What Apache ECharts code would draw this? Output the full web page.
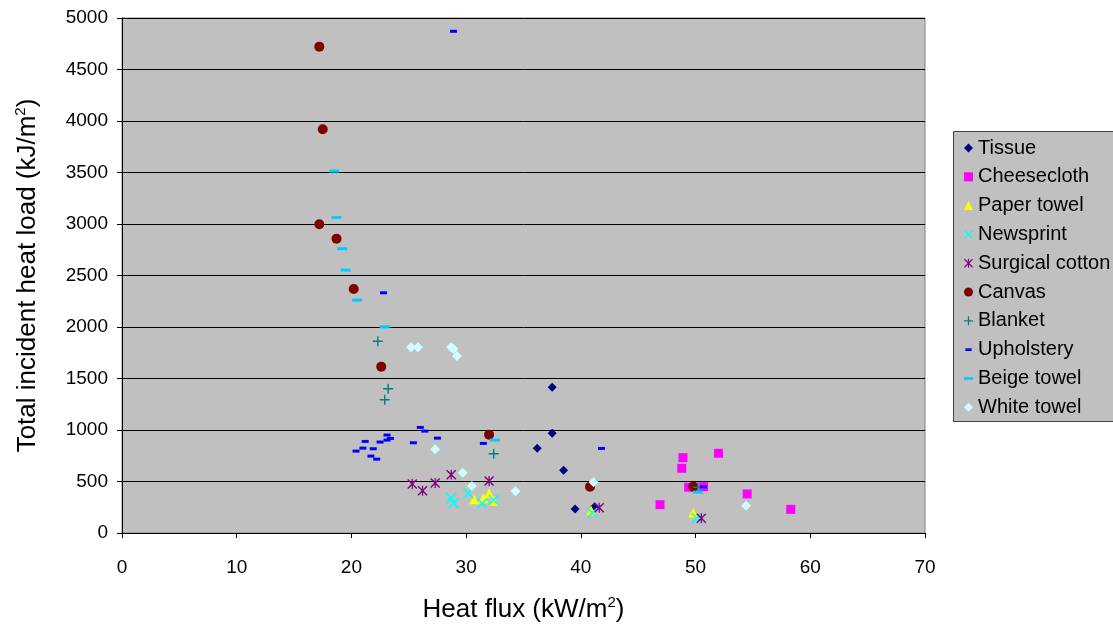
<!DOCTYPE html>
<html>
<head>
<meta charset="utf-8">
<script src="https://cdn.jsdelivr.net/npm/echarts@6/dist/echarts.min.js"></script>
<style>
  html, body { margin: 0; padding: 0; background: #fff; }
  #chart { width: 1113px; height: 630px; }
</style>
</head>
<body>
<div id="chart"></div>
<script>
// series names, in legend order
const materials = ['Tissue', 'Cheesecloth', 'Paper towel', 'Newsprint', 'Surgical cotton',
  'Canvas', 'Blanket', 'Upholstery', 'Beige towel', 'White towel'];

// [heat flux kW/m2, total incident heat load kJ/m2]
const tissue = [[37.5, 1415], [37.5, 968], [36.2, 822], [38.5, 609], [39.5, 233], [41.2, 255]];
const cheesecloth = [[48.9, 731], [48.8, 628], [52.0, 774], [49.4, 444], [50.7, 450], [54.5, 379], [46.9, 275], [58.3, 230]];
const paperTowel = [[30.7, 327], [31.5, 337], [32.0, 385], [32.4, 313], [40.9, 215], [49.8, 197]];
const newsprint = [[28.7, 340], [28.9, 290], [30.2, 385], [31.4, 288], [32.4, 320], [41.0, 195], [50.1, 143]];
const surgicalCotton = [[25.3, 476], [26.2, 411], [27.3, 485], [28.7, 566], [32.0, 505], [41.6, 246], [50.5, 143]];
const canvas = [[17.2, 4722], [17.5, 3920], [17.2, 2997], [18.7, 2858], [20.2, 2369], [22.6, 1615], [32.0, 955], [40.8, 450], [49.8, 450]];
const blanket = [[22.3, 1861], [23.2, 1401], [22.9, 1294], [32.4, 770], [50.2, 444]];
const upholstery = [[28.9, 4872], [22.8, 2333], [26.0, 1026], [26.4, 990], [27.5, 922], [25.4, 877], [23.1, 952], [23.4, 919],
  [23.1, 903], [22.5, 884], [21.2, 890], [21.0, 825], [21.9, 819], [20.4, 796], [21.7, 748], [22.2, 718],
  [31.5, 871], [41.8, 822], [50.7, 450]];
const beigeTowel = [[18.5, 3515], [18.7, 3065], [19.2, 2761], [19.5, 2554], [20.5, 2262], [22.9, 2003], [32.5, 903], [50.2, 398]];
const whiteTowel = [[25.2, 1803], [25.8, 1803], [28.7, 1803], [28.9, 1786], [29.2, 1719], [27.3, 813], [29.7, 585],
  [30.5, 456], [34.3, 405], [41.1, 492], [54.4, 265]];

const seriesData = [tissue, cheesecloth, paperTowel, newsprint, surgicalCotton, canvas, blanket, upholstery, beigeTowel, whiteTowel];

// marker shapes (excel style)
const X_PATH = 'path://M0,1L1,0L5,4L9,0L10,1L6,5L10,9L9,10L5,6L1,10L0,9L4,5Z';
const STAR_PATH = 'path://M0,1L1,0L5,4L9,0L10,1L6,5L10,9L9,10L5,6L1,10L0,9L4,5Z M4.4,0H5.6V10H4.4Z';
const PLUS_PATH = 'path://M4.3,0H5.7V4.3H10V5.7H5.7V10H4.3V5.7H0V4.3H4.3Z';
const SHORT_DASH = 'path://M0,0M10,10M1.5,3.6H8.5V6.6H1.5Z';
const LONG_DASH = 'path://M0,0M10,10M0,3.6H10V6.6H0Z';

const styles = [
  { symbol: 'diamond', size: 9, color: '#000080' },
  { symbol: 'rect', size: 9, color: '#FF00FF' },
  { symbol: 'triangle', size: 10, color: '#FFFF00' },
  { symbol: X_PATH, size: 11, color: '#00FFFF' },
  { symbol: STAR_PATH, size: 10, color: '#800080' },
  { symbol: 'circle', size: 10, color: '#800000' },
  { symbol: PLUS_PATH, size: 10, color: '#008080' },
  { symbol: SHORT_DASH, size: 10, color: '#0000FF' },
  { symbol: LONG_DASH, size: 10, color: '#00CCFF' },
  { symbol: 'diamond', size: 10, color: '#CCFFFF' }
];

const FONT = '"Liberation Sans", Arial, sans-serif';
const supStyle = { sup: { fontSize: 15, verticalAlign: 'top', lineHeight: 30, padding: [0, 0, 14, 0] } };

const chart = echarts.init(document.getElementById('chart'), null, { renderer: 'canvas' });

const option = {
  animation: false,
  backgroundColor: '#fff',
  textStyle: { fontFamily: FONT, color: '#000' },
  grid: {
    left: 122, top: 18, width: 803, height: 515,
    show: true, backgroundColor: '#C0C0C0', borderColor: '#808080', borderWidth: 1
  },
  graphic: [{
    type: 'rect', left: 953, top: 131, z: 0,
    shape: { width: 200, height: 290 },
    style: { fill: '#C0C0C0', stroke: '#404040', lineWidth: 1 }
  }],
  legend: {
    orient: 'vertical',
    left: 959, top: 133,
    itemWidth: 9, itemHeight: 9,
    itemGap: 8.8,
    data: materials,
    textStyle: { fontFamily: FONT, fontSize: 20, color: '#000', lineHeight: 20 },
    z: 5
  },
  xAxis: {
    type: 'value', min: 0, max: 70, interval: 10,
    name: 'Heat flux (kW/m{sup|2})',
    nameLocation: 'middle', nameGap: 62,
    nameTextStyle: { fontFamily: FONT, fontSize: 26, color: '#000', rich: supStyle },
    axisLine: { show: true, lineStyle: { color: '#000', width: 1 } },
    axisTick: { show: true, length: 5, lineStyle: { color: '#000' } },
    axisLabel: { fontFamily: FONT, fontSize: 19, color: '#000', margin: 25 },
    splitLine: { show: false }
  },
  yAxis: {
    type: 'value', min: 0, max: 5000, interval: 500,
    name: 'Total incident heat load (kJ/m{sup|2})',
    nameLocation: 'middle', nameGap: 79,
    nameTextStyle: { fontFamily: FONT, fontSize: 26, color: '#000', rich: supStyle },
    axisLine: { show: true, lineStyle: { color: '#000', width: 1 } },
    axisTick: { show: true, length: 5, lineStyle: { color: '#000' } },
    axisLabel: { fontFamily: FONT, fontSize: 19, color: '#000', margin: 14, formatter: v => String(v) },
    splitLine: { show: true, lineStyle: { color: '#000', width: 1 } }
  },
  series: materials.map((name, i) => ({
    name: name,
    type: 'scatter',
    data: seriesData[i],
    symbol: styles[i].symbol,
    symbolSize: styles[i].size,
    itemStyle: { color: styles[i].color, opacity: 1 },
    emphasis: { disabled: true }
  }))
};

chart.setOption(option);
window.addEventListener('resize', () => chart.resize());
</script>
</body>
</html>
